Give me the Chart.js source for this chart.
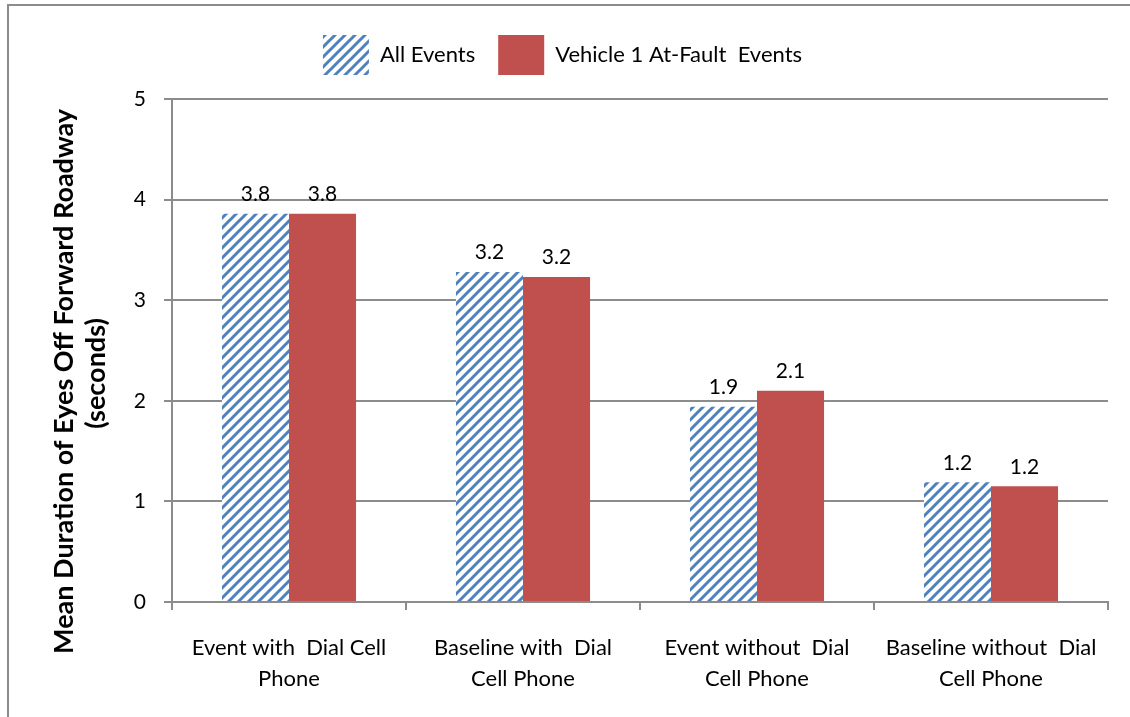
<!DOCTYPE html>
<html>
<head>
<meta charset="utf-8">
<script src="https://cdn.jsdelivr.net/npm/chart.js@4.4.1/dist/chart.umd.min.js"></script>
<style>
  html, body { margin: 0; padding: 0; background: #fff; }
  #wrap { width: 1130px; height: 717px; }
</style>
</head>
<body>
<div id="wrap"><canvas id="eyesChart" width="1130" height="717"></canvas></div>
<script>
// data
const categories = [
  ['Event with  Dial Cell', 'Phone'],
  ['Baseline with  Dial', 'Cell Phone'],
  ['Event without  Dial', 'Cell Phone'],
  ['Baseline without  Dial', 'Cell Phone']
];
const allEvents = [3.86, 3.28, 1.94, 1.19];
const atFaultEvents = [3.86, 3.23, 2.10, 1.15];
const allEventsLabels = ['3.8', '3.2', '1.9', '1.2'];
const atFaultLabels = ['3.8', '3.2', '2.1', '1.2'];
const yTicks = [0, 1, 2, 3, 4, 5];
const yTitle = ['Mean Duration of Eyes Off Forward Roadway', '(seconds)'];

const FONT = 'Lato, "Open Sans", sans-serif';
const BLUE = '#4F81BD';
const RED = '#C0504D';
const GRID = '#8c8c8c';

// diagonal stripe pattern for "All Events"
function makeStripes() {
  const n = 10;
  const tile = document.createElement('canvas');
  tile.width = n;
  tile.height = n;
  const c = tile.getContext('2d');
  c.fillStyle = '#ffffff';
  c.fillRect(0, 0, n, n);
  c.strokeStyle = BLUE;
  c.lineWidth = 3;
  c.beginPath();
  c.moveTo(-2, n + 2); c.lineTo(n + 2, -2);
  c.moveTo(-2, 2); c.lineTo(2, -2);
  c.moveTo(n - 2, n + 2); c.lineTo(n + 2, n - 2);
  c.stroke();
  return c.createPattern(tile, 'repeat');
}

const ctx = document.getElementById('eyesChart').getContext('2d');
const stripes = makeStripes();

// numbers above the bars
const valueLabels = {
  id: 'valueLabels',
  afterDatasetsDraw(chart) {
    const c = chart.ctx;
    const texts = [allEventsLabels, atFaultLabels];
    c.save();
    c.font = '21px ' + FONT;
    c.fillStyle = '#000';
    c.textAlign = 'center';
    c.textBaseline = 'bottom';
    chart.data.datasets.forEach(function (ds, i) {
      chart.getDatasetMeta(i).data.forEach(function (bar, j) {
        c.fillText(texts[i][j], bar.x, bar.y - 9);
      });
    });
    c.restore();
  }
};

// y axis title, sits a little lower than the plot centre like in the original
const axisTitle = {
  id: 'axisTitle',
  afterDraw(chart) {
    const c = chart.ctx;
    const area = chart.chartArea;
    const cy = (area.top + area.bottom) / 2 + 31;
    c.save();
    c.font = 'bold 27px ' + FONT;
    c.fillStyle = '#000';
    c.textAlign = 'center';
    c.textBaseline = 'middle';
    c.translate(64, cy);
    c.rotate(-Math.PI / 2);
    c.fillText(yTitle[0], 0, 0);
    c.fillText(yTitle[1], 8, 32);
    c.restore();
  }
};

// grey frame, only its top and left edges fall inside the picture
const frame = {
  id: 'frame',
  beforeDraw(chart) {
    const c = chart.ctx;
    c.save();
    c.strokeStyle = '#8c8c8c';
    c.lineWidth = 2;
    c.beginPath();
    c.moveTo(8, chart.height);
    c.lineTo(8, 5);
    c.lineTo(chart.width, 5);
    c.stroke();
    c.restore();
  }
};

// extra room under the legend and nudge it left a bit
const legendTweak = {
  id: 'legendTweak',
  afterInit(chart) {
    const legend = chart.legend;
    const fit = legend.fit;
    legend.fit = function () {
      fit.call(this);
      this.height += 14;
    };
  },
  afterLayout(chart) {
    chart.legend.left -= 16;
    chart.legend.right -= 16;
  }
};

new Chart(ctx, {
  type: 'bar',
  data: {
    labels: categories,
    datasets: [
      {
        label: 'All Events',
        data: allEvents,
        backgroundColor: stripes,
        borderWidth: 0
      },
      {
        label: 'Vehicle 1 At-Fault  Events',
        data: atFaultEvents,
        backgroundColor: RED,
        borderWidth: 0
      }
    ]
  },
  options: {
    responsive: false,
    animation: false,
    layout: {
      padding: { left: 49, right: 22, top: 12, bottom: 0 }
    },
    datasets: {
      bar: { categoryPercentage: 0.573, barPercentage: 1 }
    },
    plugins: {
      tooltip: { enabled: false },
      legend: {
        position: 'top',
        labels: {
          font: { family: FONT, size: 22 },
          color: '#000',
          boxWidth: 46,
          boxHeight: 40,
          padding: 23
        }
      }
    },
    scales: {
      x: {
        afterFit(scale) {
          scale.height = 717 - 602;
        },
        grid: {
          offset: true,
          drawOnChartArea: false,
          drawTicks: true,
          tickLength: 8,
          color: GRID,
          lineWidth: 2
        },
        border: { color: GRID, width: 2 },
        ticks: {
          font: { family: FONT, size: 22, lineHeight: 1.4 },
          color: '#000',
          padding: 23,
          maxRotation: 0,
          autoSkip: false
        }
      },
      y: {
        min: 0,
        max: 5,
        afterBuildTicks(scale) {
          scale.ticks = yTicks.map(function (v) { return { value: v }; });
        },
        afterFit(scale) {
          scale.width = 172 - 49;
        },
        grid: {
          color: GRID,
          lineWidth: 2,
          tickLength: 8
        },
        border: { color: GRID, width: 2 },
        ticks: {
          font: { family: FONT, size: 21 },
          color: '#000',
          padding: 18
        }
      }
    }
  },
  plugins: [valueLabels, axisTitle, frame, legendTweak]
});
</script>
</body>
</html>
